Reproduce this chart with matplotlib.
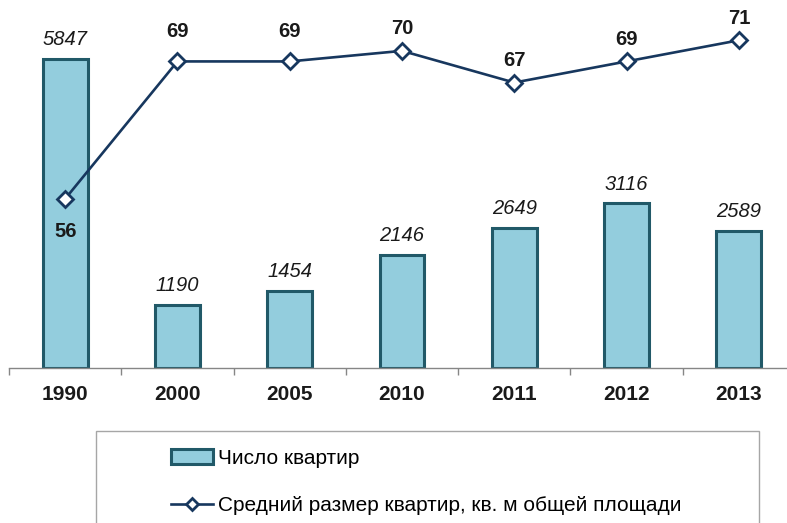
import matplotlib
matplotlib.use("Agg")
import matplotlib.pyplot as plt
from matplotlib.patches import Rectangle

plt.rcParams['font.family'] = ['Liberation Sans', 'DejaVu Sans']

years = ["1990", "2000", "2005", "2010", "2011", "2012", "2013"]
flats = [5847, 1190, 1454, 2146, 2649, 3116, 2589]
avg_size = [56, 69, 69, 70, 67, 69, 71]

bar_label = "Число квартир"
line_label = "Средний размер квартир, кв. м общей площади"

# vertical offsets (points) for the line's value labels
line_offsets = [-17, 15, 15, 9, 9, 9, 9]

fig = plt.figure(figsize=(7.87, 5.23), dpi=100)
ax = fig.add_axes([9 / 787, 155 / 523, 786 / 787, 370 / 523])
x = list(range(len(years)))

bars = ax.bar(x, flats, width=0.4, color="#93CDDD", edgecolor="#215968",
              linewidth=2.2, label=bar_label, zorder=2)
ax.set_ylim(0, 7000)
ax.set_xlim(-0.5, len(years) - 0.5)
for xi, v in zip(x, flats):
    ax.annotate(str(v), (xi, v), xytext=(0, 7), textcoords="offset points",
                ha="center", va="bottom", fontsize=14.5, style="italic", color="#1a1a1a")

for s in ["left", "right", "top"]:
    ax.spines[s].set_visible(False)
ax.spines["bottom"].set_color("#868686")
ax.spines["bottom"].set_linewidth(1)
ax.set_yticks([])
ax.set_xticks(x)
ax.set_xticklabels(years, fontsize=15, fontweight="bold", color="#1a1a1a")
ax.set_xticks([i - 0.5 for i in range(len(years) + 1)], minor=True)
ax.tick_params(axis="x", which="major", length=0, pad=12)
ax.tick_params(axis="x", which="minor", length=5, color="#868686", width=1)

ax2 = ax.twinx()
ax2.set_ylim(40, 75)
ax2.set_yticks([])
for s in ax2.spines.values():
    s.set_visible(False)
line, = ax2.plot(x, avg_size, color="#17375E", linewidth=1.9, marker="D",
                 markersize=8.5, markerfacecolor="white", markeredgecolor="#17375E",
                 markeredgewidth=2, label=line_label, zorder=3)
for xi, v, off in zip(x, avg_size, line_offsets):
    ax2.annotate(str(v), (xi, v), xytext=(0, off), textcoords="offset points",
                 ha="center", va="top" if off < 0 else "bottom",
                 fontsize=14.5, fontweight="bold", color="#1a1a1a")

fig.patches.append(Rectangle((96 / 787, -0.05), (759 - 96) / 787, (523 - 431) / 523 + 0.05,
                             transform=fig.transFigure, fill=False,
                             edgecolor="#A6A6A6", linewidth=1))
fig.legend([bars, line], [bar_label, line_label], loc="upper left",
           bbox_to_anchor=(171 / 787, 1 - 449 / 523), frameon=False,
           fontsize=15, borderpad=0, borderaxespad=0, handlelength=2.0,
           handletextpad=0.25, labelspacing=1.35, markerscale=0.75)

fig.savefig("out.png", dpi=100)
